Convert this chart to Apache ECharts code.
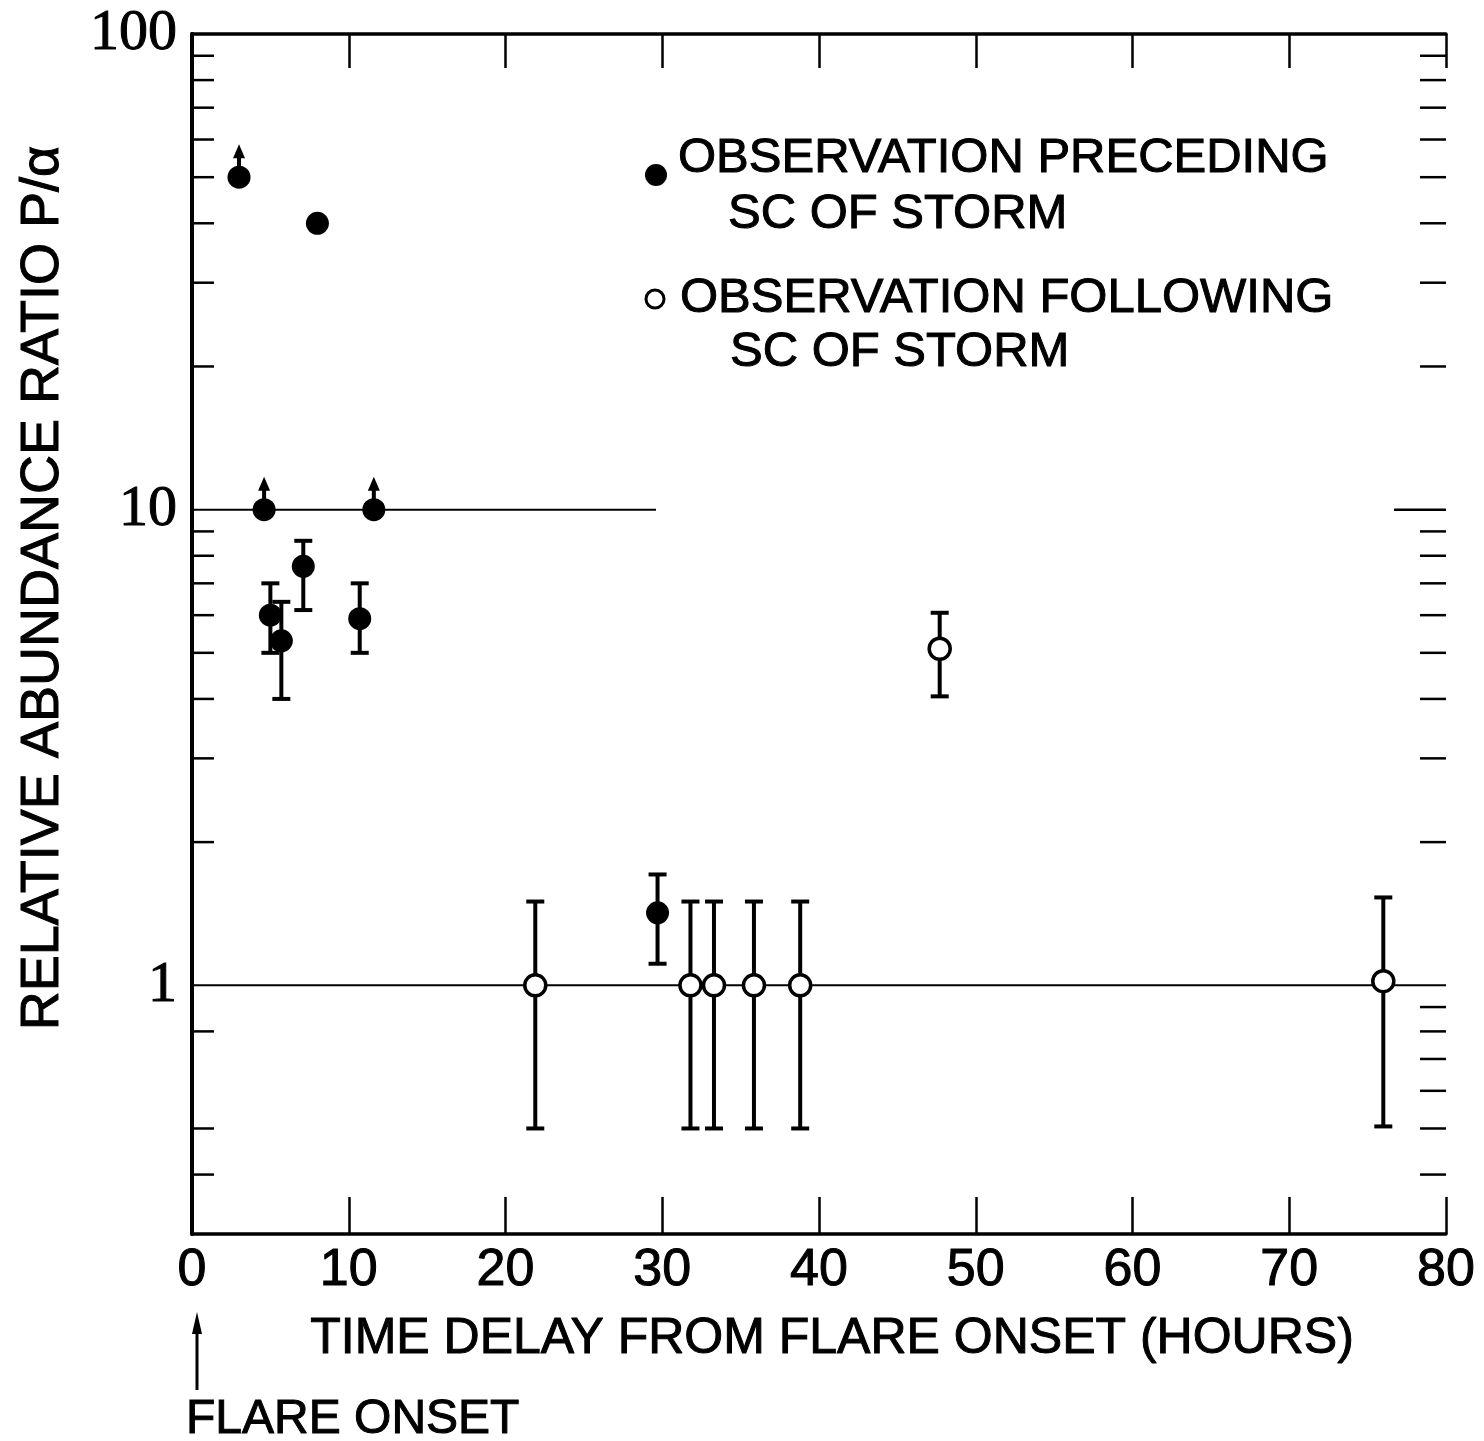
<!DOCTYPE html>
<html>
<head>
<meta charset="utf-8">
<script src="https://cdn.jsdelivr.net/npm/echarts@6/dist/echarts.min.js"></script>
<style>
html, body { margin: 0; padding: 0; background: #fff; }
#chart { width: 1484px; height: 1441px; }
</style>
</head>
<body>
<div id="chart"></div>
<script type="text/javascript">
// observations preceding SC of storm (filled)
var preX    = [3.0, 8.0, 4.6, 11.6, 5.0, 5.7, 7.1, 10.7, 29.7];
var preY    = [50, 40, 10, 10, 6.0, 5.3, 7.6, 5.9, 1.42];
var preLow  = [null, null, null, null, 5.0, 4.0, 6.15, 5.0, 1.11];
var preHigh = [null, null, null, null, 7.0, 6.4, 8.6, 7.0, 1.71];
var preLimit = [true, false, true, true, false, false, false, false, false];

// observations following SC of storm (open)
var folX    = [21.9, 31.8, 33.3, 35.85, 38.8, 47.7, 76.0];
var folY    = [1.0, 1.0, 1.0, 1.0, 1.0, 5.1, 1.02];
var folLow  = [0.5, 0.5, 0.5, 0.5, 0.5, 4.05, 0.505];
var folHigh = [1.5, 1.5, 1.5, 1.5, 1.5, 6.07, 1.53];

// horizontal reference lines
var line10 = [[0, 10], [29.6, 10]];
var line1  = [[0, 1], [80, 1]];

// log axis minor ticks
var minorLeft  = [0.4, 0.5, 0.8, 2, 3, 4, 5, 6, 7, 8, 9, 20, 30, 40, 50, 60, 70, 80, 90];
var minorRight = [0.4, 0.5, 0.6, 0.7, 0.8, 0.9, 2, 3, 4, 5, 6, 7, 8, 9, 20, 30, 40, 50, 60, 70, 80, 90];
var majorRight = [10];

var xMin = 0, xMax = 80;

var filled = [], open = [], bars = [], limits = [], ticks = [];
for (var i = 0; i < preX.length; i++) {
    filled.push([preX[i], preY[i]]);
    if (preLow[i] != null) bars.push([preX[i], preLow[i], preHigh[i]]);
    if (preLimit[i]) limits.push([preX[i], preY[i]]);
}
for (var j = 0; j < folX.length; j++) {
    open.push([folX[j], folY[j]]);
    bars.push([folX[j], folLow[j], folHigh[j]]);
}
minorLeft.forEach(function (v) { ticks.push([xMin, v, 22]); });
minorRight.forEach(function (v) { ticks.push([xMax, v, -26]); });
majorRight.forEach(function (v) { ticks.push([xMax, v, -52]); });

var black = '#000';
var sans = 'Liberation Sans';

function renderBar(params, api) {
    var x = api.value(0);
    var lo = api.coord([x, api.value(1)]);
    var hi = api.coord([x, api.value(2)]);
    var st = { stroke: black, lineWidth: 4 };
    return {
        type: 'group',
        children: [
            { type: 'line', shape: { x1: lo[0], y1: lo[1], x2: hi[0], y2: hi[1] }, style: st },
            { type: 'line', shape: { x1: lo[0] - 9, y1: lo[1], x2: lo[0] + 9, y2: lo[1] }, style: st },
            { type: 'line', shape: { x1: hi[0] - 9, y1: hi[1], x2: hi[0] + 9, y2: hi[1] }, style: st }
        ]
    };
}

function renderArrow(params, api) {
    var p = api.coord([api.value(0), api.value(1)]);
    return {
        type: 'group',
        children: [
            { type: 'line', shape: { x1: p[0], y1: p[1] - 10, x2: p[0], y2: p[1] - 22 },
              style: { stroke: black, lineWidth: 4 } },
            { type: 'polygon', shape: { points: [[p[0], p[1] - 33], [p[0] - 6, p[1] - 19], [p[0] + 6, p[1] - 19]] },
              style: { fill: black } }
        ]
    };
}

function renderTick(params, api) {
    var p = api.coord([api.value(0), api.value(1)]);
    var len = api.value(2);
    return {
        type: 'line',
        shape: { x1: p[0], y1: p[1], x2: p[0] + len, y2: p[1] },
        style: { stroke: black, lineWidth: 2.5 }
    };
}

var chart = echarts.init(document.getElementById('chart'));

var option = {
    backgroundColor: '#fff',
    animation: false,
    grid: { left: 192, top: 34, right: 38, bottom: 207 },
    xAxis: [
        {
            type: 'value', min: xMin, max: xMax, interval: 10, position: 'bottom',
            axisLine: { lineStyle: { color: black, width: 3.5 } },
            axisTick: { inside: true, length: 37, lineStyle: { color: black, width: 2.5 } },
            axisLabel: { color: black, fontFamily: sans, fontSize: 52, margin: 11,
                         textBorderColor: black, textBorderWidth: 1 },
            splitLine: { show: false },
            name: 'TIME DELAY FROM FLARE ONSET (HOURS)',
            nameLocation: 'middle', nameGap: 80,
            nameTextStyle: { color: black, fontFamily: sans, fontSize: 50, padding: [0, 0, 0, 26],
                             textBorderColor: black, textBorderWidth: 1 }
        },
        {
            type: 'value', min: xMin, max: xMax, interval: 10, position: 'top',
            axisLine: { lineStyle: { color: black, width: 3.5 } },
            axisTick: { inside: true, length: 34, lineStyle: { color: black, width: 2.5 } },
            axisLabel: { show: false },
            splitLine: { show: false }
        }
    ],
    yAxis: [
        {
            type: 'log', logBase: 10, min: 0.3, max: 100, position: 'left',
            axisLine: { lineStyle: { color: black, width: 4 } },
            axisTick: { show: false },
            splitLine: { show: false },
            axisLabel: {
                color: black, fontFamily: 'Liberation Serif', fontSize: 58, margin: 15,
                textBorderColor: black, textBorderWidth: 1,
                formatter: function (v) {
                    var l = Math.log(v) / Math.LN10;
                    if (v >= 0.99 && Math.abs(l - Math.round(l)) < 1e-6) return String(Math.round(v));
                    return '';
                }
            },
            name: 'RELATIVE ABUNDANCE RATIO P/α',
            nameLocation: 'middle', nameGap: 122,
            nameTextStyle: { color: black, fontFamily: sans, fontSize: 54, padding: [0, 0, 0, 92],
                             textBorderColor: black, textBorderWidth: 1 }
        },
        {
            type: 'log', logBase: 10, min: 0.3, max: 100, position: 'right',
            axisLine: { lineStyle: { color: black, width: 3.5 } },
            axisTick: { show: false },
            axisLabel: { show: false },
            splitLine: { show: false }
        }
    ],
    series: [
        {
            name: 'line10', type: 'line', data: line10, symbol: 'none', z: 1,
            lineStyle: { color: black, width: 2 }
        },
        {
            name: 'line1', type: 'line', data: line1, symbol: 'none', z: 1,
            lineStyle: { color: black, width: 2 }
        },
        {
            name: 'ticks', type: 'custom', data: ticks, renderItem: renderTick, clip: false,
            encode: { x: 0, y: 1 }, z: 1, silent: true
        },
        {
            name: 'bars', type: 'custom', data: bars, renderItem: renderBar,
            encode: { x: 0, y: [1, 2] }, z: 2
        },
        {
            name: 'limits', type: 'custom', data: limits, renderItem: renderArrow,
            encode: { x: 0, y: 1 }, z: 2
        },
        {
            name: 'OBSERVATION PRECEDING SC OF STORM', type: 'scatter', data: filled,
            symbol: 'circle', symbolSize: 23, z: 3,
            itemStyle: { color: black, opacity: 1 }
        },
        {
            name: 'OBSERVATION FOLLOWING SC OF STORM', type: 'scatter', data: open,
            symbol: 'circle', symbolSize: 21, z: 3,
            itemStyle: { color: '#fff', borderColor: black, borderWidth: 3.5, opacity: 1 }
        }
    ]
};
chart.setOption(option);

// key, and the flare onset marker under x = 0
var x0 = chart.convertToPixel({ xAxisIndex: 0 }, 0);
var txt = { fill: black, font: '49px "Liberation Sans"', textVerticalAlign: 'middle',
            stroke: black, lineWidth: 1 };
chart.setOption({
    graphic: [
        { type: 'circle', shape: { cx: 656, cy: 175, r: 11 }, style: { fill: black } },
        { type: 'text', x: 678, y: 158, style: Object.assign({ text: 'OBSERVATION PRECEDING' }, txt) },
        { type: 'text', x: 728, y: 214, style: Object.assign({ text: 'SC OF STORM' }, txt) },
        { type: 'circle', shape: { cx: 655, cy: 299, r: 9 }, style: { fill: '#fff', stroke: black, lineWidth: 3 } },
        { type: 'text', x: 680, y: 298, style: Object.assign({ text: 'OBSERVATION FOLLOWING' }, txt) },
        { type: 'text', x: 730, y: 352, style: Object.assign({ text: 'SC OF STORM' }, txt) },
        { type: 'line', shape: { x1: x0 + 5, y1: 1390, x2: x0 + 5, y2: 1330 }, style: { stroke: black, lineWidth: 3 } },
        { type: 'polygon', shape: { points: [[x0 + 5, 1312], [x0, 1334], [x0 + 10, 1334]] }, style: { fill: black } },
        { type: 'text', x: 186, y: 1420, style: { text: 'FLARE ONSET', fill: black, font: '48px "Liberation Sans"',
          textVerticalAlign: 'middle', stroke: black, lineWidth: 1 } }
    ]
});
</script>
</body>
</html>
